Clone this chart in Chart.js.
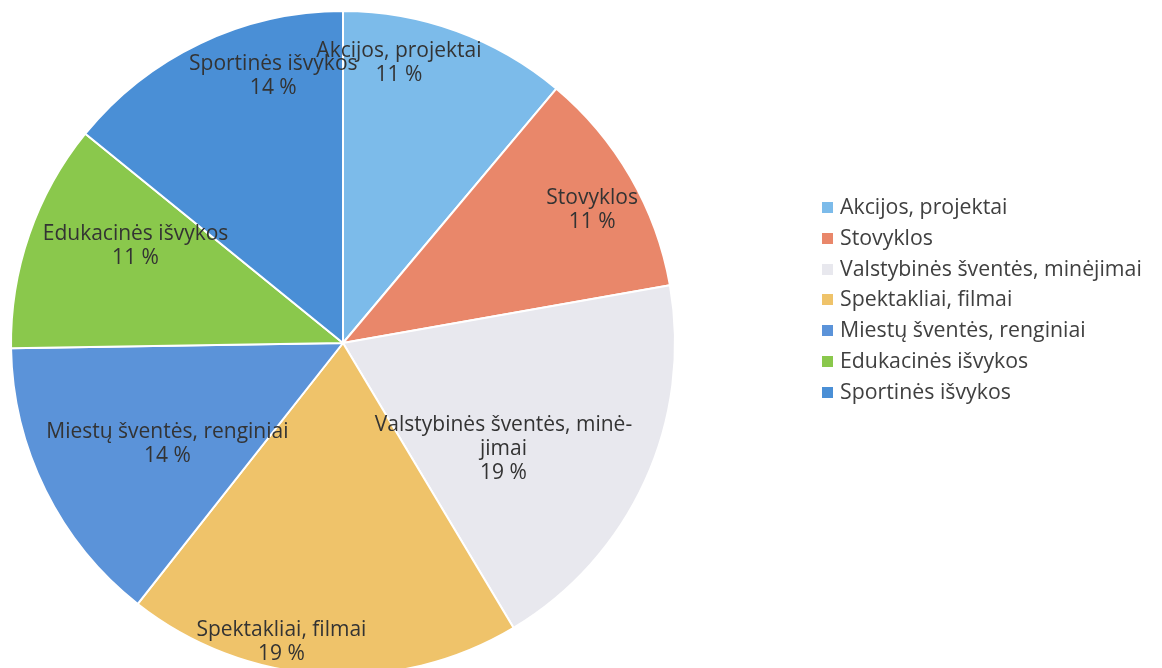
<!DOCTYPE html>
<html>
<head>
<meta charset="utf-8">
<script src="https://cdn.jsdelivr.net/npm/chart.js@4"></script>
<style>
  html, body { margin: 0; padding: 0; background: #fff; overflow: hidden; }
  #wrap { position: relative; width: 1162px; height: 690px; }
  #legend { position: absolute; left: 822px; top: 191px; font-family: "Open Sans", sans-serif; font-size: 21.3px; color: #404040; }
  #legend div { height: 30.8px; line-height: 29px; white-space: nowrap; }
  #legend span { display: inline-block; width: 11px; height: 11px; margin-right: 7px; vertical-align: 1px; }
</style>
</head>
<body>
<div id="wrap">
  <canvas id="myChart1" width="1162" height="690"></canvas>
  <div id="legend"></div>
</div>
<script>
// kategorijos ir reikšmės (%)
const categories = ["Akcijos, projektai", "Stovyklos", "Valstybinės šventės, minėjimai", "Spektakliai, filmai", "Miestų šventės, renginiai", "Edukacinės išvykos", "Sportinės išvykos"];
const values = [11, 11, 19, 19, 14, 11, 14];
// užrašai ant skiltelių (kaip Excel laužo eilutes)
const sliceNames = [["Akcijos, projektai"], ["Stovyklos"], ["Valstybinės šventės, minė-", "jimai"], ["Spektakliai, filmai"], ["Miestų šventės, renginiai"], ["Edukacinės išvykos"], ["Sportinės išvykos"]];

const colors = ["#7cbbea", "#e9876a", "#e8e8ee", "#efc36a", "#5b93d9", "#8ac84c", "#4a8fd6"];
// užrašų vieta: atstumas nuo centro (dalis spindulio) ir kampo poslinkis laipsniais
const labelRadius = [0.86, 0.85, 0.58, 0.92, 0.61, 0.69, 0.83];
const labelShift = [-8.7, 2, 9, 8, -3.5, 6, 10.8];

let myChart1;

// užrašai skiltelėse
const sliceLabels = {
    id: 'sliceLabels',
    afterDatasetsDraw(chart) {
        const ctx = chart.ctx;
        const meta = chart.getDatasetMeta(0);
        ctx.save();
        ctx.font = '21px "Open Sans", sans-serif';
        ctx.fillStyle = '#333';
        ctx.textAlign = 'center';
        ctx.textBaseline = 'middle';
        meta.data.forEach((arc, i) => {
            const p = arc.getProps(['x', 'y', 'startAngle', 'endAngle', 'outerRadius'], true);
            const a = (p.startAngle + p.endAngle) / 2 + labelShift[i] * Math.PI / 180;
            const r = p.outerRadius * labelRadius[i];
            const cx = p.x + Math.cos(a) * r;
            const cy = p.y + Math.sin(a) * r;
            const lines = sliceNames[i].concat([values[i] + ' %']);
            const lh = 24;
            lines.forEach((t, k) => {
                ctx.fillText(t, cx, cy + (k - (lines.length - 1) / 2) * lh);
            });
        });
        ctx.restore();
    }
};

function drawChart() {
    const ctx = document.getElementById('myChart1').getContext('2d');
    if (myChart1) {
        myChart1.destroy();
    }
    myChart1 = new Chart(ctx, {
        type: 'pie',
        data: {
            labels: categories,
            datasets: [{
                data: values,
                backgroundColor: colors,
                borderColor: '#fff',
                borderWidth: 2
            }]
        },
        options: {
            responsive: false,
            animation: false,
            layout: { padding: { left: 10, top: 10, bottom: 14, right: 486 } },
            plugins: {
                legend: { display: false },
                tooltip: { enabled: false }
            }
        },
        plugins: [sliceLabels]
    });

    // legenda
    const lg = document.getElementById('legend');
    categories.forEach((c, i) => {
        const d = document.createElement('div');
        d.innerHTML = '<span style="background:' + colors[i] + '"></span>' + c;
        lg.appendChild(d);
    });
}

drawChart();
</script>
</body>
</html>
